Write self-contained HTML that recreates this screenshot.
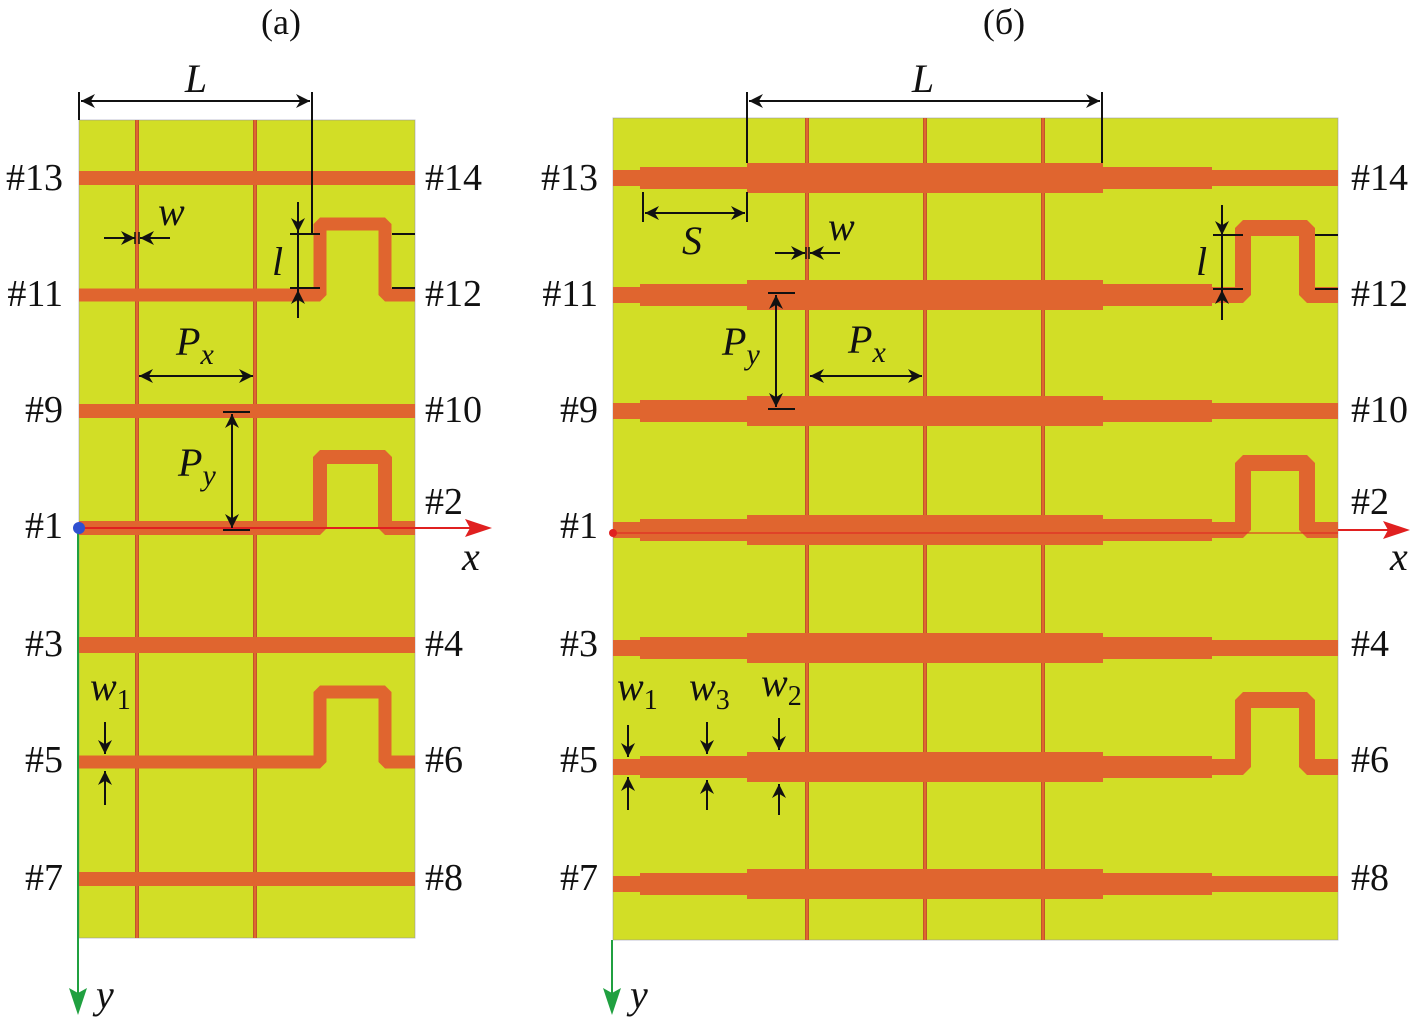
<!DOCTYPE html>
<html><head><meta charset="utf-8"><style>
html,body{margin:0;padding:0;background:#fff}
svg{display:block}
text{font-family:"Liberation Serif",serif;fill:#111}
.it{font-style:italic}
</style></head><body>
<svg width="1415" height="1022" viewBox="0 0 1415 1022" xmlns="http://www.w3.org/2000/svg">
<defs>
<marker id="ar" viewBox="0 0 10 10" refX="10" refY="5" markerWidth="20" markerHeight="14" orient="auto-start-reverse" markerUnits="userSpaceOnUse"><path d="M0,0 L10,5 L0,10 L3,5 Z" fill="#111"/></marker>
</defs>
<g stroke="#a04a20" stroke-opacity="0.5">
<rect x="79" y="120" width="336" height="818" fill="#d2de26" stroke="#8888aa" stroke-width="1"/>
<g stroke="#c0552a" stroke-width="4" stroke-opacity="1">
<line x1="137" y1="120" x2="137" y2="938"/><line x1="255" y1="120" x2="255" y2="938"/>
</g>
<g stroke="#e0652f" stroke-width="2" stroke-opacity="1">
<line x1="137" y1="120" x2="137" y2="938"/><line x1="255" y1="120" x2="255" y2="938"/>
</g>
<g stroke="#e0652f" stroke-opacity="1" fill="none" stroke-linejoin="bevel">
<line x1="79" y1="178" x2="415" y2="178" stroke-width="14"/>
<polyline points="79,295 320,295 320,224 385,224 385,295 415,295" stroke-width="13"/>
<line x1="79" y1="411" x2="415" y2="411" stroke-width="14"/>
<polyline points="79,528 320,528 320,457 385,457 385,528 415,528" stroke-width="14"/>
<line x1="79" y1="645" x2="415" y2="645" stroke-width="16"/>
<polyline points="79,762 320,762 320,692 385,692 385,762 415,762" stroke-width="13"/>
<line x1="79" y1="879" x2="415" y2="879" stroke-width="14"/>
</g>
<rect x="613" y="118" width="725" height="822" fill="#d2de26" stroke="#8888aa" stroke-width="1"/>
<g stroke="#c0552a" stroke-width="4" stroke-opacity="1">
<line x1="807" y1="118" x2="807" y2="940"/><line x1="925" y1="118" x2="925" y2="940"/><line x1="1043" y1="118" x2="1043" y2="940"/>
</g>
<g stroke="#e0652f" stroke-width="2" stroke-opacity="1">
<line x1="807" y1="118" x2="807" y2="940"/><line x1="925" y1="118" x2="925" y2="940"/><line x1="1043" y1="118" x2="1043" y2="940"/>
</g>
<g fill="#e0652f" stroke="none">
<rect x="613" y="170" width="30" height="16"/><rect x="640" y="167" width="110" height="22"/><rect x="747" y="163" width="356" height="30"/><rect x="1100" y="167" width="112" height="22"/><rect x="1210" y="170" width="128" height="16"/>
<rect x="613" y="287" width="30" height="16"/><rect x="640" y="284" width="110" height="22"/><rect x="747" y="280" width="356" height="30"/><rect x="1100" y="284" width="112" height="22"/>
<rect x="613" y="403" width="30" height="16"/><rect x="640" y="400" width="110" height="22"/><rect x="747" y="396" width="356" height="30"/><rect x="1100" y="400" width="112" height="22"/><rect x="1210" y="403" width="128" height="16"/>
<rect x="613" y="522" width="30" height="16"/><rect x="640" y="519" width="110" height="22"/><rect x="747" y="515" width="356" height="30"/><rect x="1100" y="519" width="112" height="22"/>
<rect x="613" y="640" width="30" height="16"/><rect x="640" y="637" width="110" height="22"/><rect x="747" y="633" width="356" height="30"/><rect x="1100" y="637" width="112" height="22"/><rect x="1210" y="640" width="128" height="16"/>
<rect x="613" y="759" width="30" height="16"/><rect x="640" y="756" width="110" height="22"/><rect x="747" y="752" width="356" height="30"/><rect x="1100" y="756" width="112" height="22"/>
<rect x="613" y="876" width="30" height="16"/><rect x="640" y="873" width="110" height="22"/><rect x="747" y="869" width="356" height="30"/><rect x="1100" y="873" width="112" height="22"/><rect x="1210" y="876" width="128" height="16"/>
</g>
<g stroke="#e0652f" stroke-opacity="1" fill="none" stroke-width="16" stroke-linejoin="bevel">
<polyline points="1208,295 1243,295 1243,228 1307,228 1307,295 1338,295"/>
<polyline points="1208,530 1243,530 1243,463 1307,463 1307,530 1338,530"/>
<polyline points="1208,767 1243,767 1243,700 1307,700 1307,767 1338,767"/>
</g>
</g>
<g>
<line x1="79" y1="528" x2="475" y2="528" stroke="#e02020" stroke-width="2"/>
<polygon points="465,519 492,528 465,537 470,528" fill="#e02020"/>
<line x1="78" y1="528" x2="78" y2="995" stroke="#20a040" stroke-width="2"/>
<polygon points="69,988 78,1015 87,988 78,993" fill="#20a040"/>
<circle cx="79" cy="528" r="6" fill="#3050d0"/>
<line x1="613" y1="533" x2="1338" y2="533" stroke="#e02020" stroke-width="1"/>
<line x1="1338" y1="530" x2="1392" y2="530" stroke="#e02020" stroke-width="2"/>
<polygon points="1383,521 1410,530 1383,539 1388,530" fill="#e02020"/>
<line x1="612" y1="940" x2="612" y2="995" stroke="#20a040" stroke-width="2"/>
<polygon points="603,988 612,1015 621,988 612,993" fill="#20a040"/>
<circle cx="613" cy="533" r="4" fill="#e02020"/>
</g>
<g stroke="#111" stroke-width="2" fill="none">
<line x1="79" y1="92" x2="79" y2="120"/><line x1="312" y1="92" x2="312" y2="234"/>
<line x1="81" y1="101" x2="310" y2="101" marker-start="url(#ar)" marker-end="url(#ar)"/>
<line x1="104" y1="238" x2="135" y2="238" marker-end="url(#ar)"/><line x1="170" y1="238" x2="140" y2="238" marker-end="url(#ar)"/>
<line x1="135" y1="232" x2="135" y2="244" stroke-width="1.5"/><line x1="139" y1="232" x2="139" y2="244" stroke-width="1.5"/>
<line x1="290" y1="234" x2="320" y2="234"/><line x1="290" y1="288" x2="320" y2="288"/>
<line x1="392" y1="234" x2="415" y2="234"/><line x1="392" y1="288" x2="415" y2="288"/>
<line x1="298" y1="202" x2="298" y2="232" marker-end="url(#ar)"/><line x1="298" y1="318" x2="298" y2="290" marker-end="url(#ar)"/>
<line x1="298" y1="232" x2="298" y2="290"/>
<line x1="139" y1="376" x2="253" y2="376" marker-start="url(#ar)" marker-end="url(#ar)"/>
<line x1="223" y1="412" x2="250" y2="412"/><line x1="223" y1="530" x2="250" y2="530"/>
<line x1="232" y1="414" x2="232" y2="528" marker-start="url(#ar)" marker-end="url(#ar)"/>
<line x1="105" y1="722" x2="105" y2="754" marker-end="url(#ar)"/><line x1="105" y1="805" x2="105" y2="771" marker-end="url(#ar)"/>
<line x1="747" y1="92" x2="747" y2="163"/><line x1="1102" y1="92" x2="1102" y2="163"/>
<line x1="749" y1="101" x2="1100" y2="101" marker-start="url(#ar)" marker-end="url(#ar)"/>
<line x1="643" y1="192" x2="643" y2="222"/><line x1="747" y1="192" x2="747" y2="222"/>
<line x1="645" y1="213" x2="745" y2="213" marker-start="url(#ar)" marker-end="url(#ar)"/>
<line x1="775" y1="253" x2="805" y2="253" marker-end="url(#ar)"/><line x1="840" y1="253" x2="810" y2="253" marker-end="url(#ar)"/>
<line x1="806" y1="247" x2="806" y2="259" stroke-width="1.5"/><line x1="809" y1="247" x2="809" y2="259" stroke-width="1.5"/>
<line x1="768" y1="293" x2="795" y2="293"/><line x1="768" y1="409" x2="795" y2="409"/>
<line x1="776" y1="295" x2="776" y2="407" marker-start="url(#ar)" marker-end="url(#ar)"/>
<line x1="810" y1="376" x2="922" y2="376" marker-start="url(#ar)" marker-end="url(#ar)"/>
<line x1="1222" y1="205" x2="1222" y2="235" marker-end="url(#ar)"/><line x1="1222" y1="320" x2="1222" y2="290" marker-end="url(#ar)"/>
<line x1="1222" y1="235" x2="1222" y2="290"/>
<line x1="1213" y1="235" x2="1243" y2="235"/><line x1="1213" y1="289" x2="1243" y2="289"/>
<line x1="1315" y1="235" x2="1338" y2="235"/><line x1="1315" y1="289" x2="1338" y2="289"/>
<line x1="628" y1="725" x2="628" y2="757" marker-end="url(#ar)"/><line x1="628" y1="810" x2="628" y2="777" marker-end="url(#ar)"/>
<line x1="707" y1="722" x2="707" y2="754" marker-end="url(#ar)"/><line x1="707" y1="810" x2="707" y2="780" marker-end="url(#ar)"/>
<line x1="779" y1="718" x2="779" y2="750" marker-end="url(#ar)"/><line x1="779" y1="815" x2="779" y2="784" marker-end="url(#ar)"/>
</g>
<g font-size="36">
<text x="281" y="34" text-anchor="middle">(a)</text>
<text x="1004" y="34" text-anchor="middle">(б)</text>
</g>
<g font-size="40">
<text class="it" x="196" y="92" text-anchor="middle">L</text>
<text class="it" x="923" y="92" text-anchor="middle">L</text>
<text class="it" x="158" y="225">w</text>
<text class="it" x="272" y="275">l</text>
<text class="it" x="176" y="355">P<tspan font-size="30" dy="9">x</tspan></text>
<text class="it" x="178" y="476">P<tspan font-size="30" dy="9">y</tspan></text>
<text class="it" x="90" y="700">w<tspan font-size="28" dy="9" font-style="normal">1</tspan></text>
<text class="it" x="462" y="570">x</text>
<text class="it" x="96" y="1008">y</text>
<text class="it" x="682" y="254">S</text>
<text class="it" x="828" y="240">w</text>
<text class="it" x="1196" y="275">l</text>
<text class="it" x="722" y="355">P<tspan font-size="30" dy="9">y</tspan></text>
<text class="it" x="848" y="353">P<tspan font-size="30" dy="9">x</tspan></text>
<text class="it" x="617" y="700">w<tspan font-size="28" dy="9" font-style="normal">1</tspan></text>
<text class="it" x="689" y="700">w<tspan font-size="28" dy="9" font-style="normal">3</tspan></text>
<text class="it" x="761" y="696">w<tspan font-size="28" dy="9" font-style="normal">2</tspan></text>
<text class="it" x="1390" y="570">x</text>
<text class="it" x="630" y="1008">y</text>
</g>
<g font-size="38">
<text x="63" y="190" text-anchor="end">#13</text><text x="63" y="306" text-anchor="end">#11</text>
<text x="63" y="422" text-anchor="end">#9</text><text x="63" y="538" text-anchor="end">#1</text>
<text x="63" y="656" text-anchor="end">#3</text><text x="63" y="772" text-anchor="end">#5</text>
<text x="63" y="890" text-anchor="end">#7</text>
<text x="425" y="190">#14</text><text x="425" y="306">#12</text><text x="425" y="422">#10</text>
<text x="425" y="514">#2</text><text x="425" y="656">#4</text><text x="425" y="772">#6</text><text x="425" y="890">#8</text>
<text x="598" y="190" text-anchor="end">#13</text><text x="598" y="306" text-anchor="end">#11</text>
<text x="598" y="422" text-anchor="end">#9</text><text x="598" y="538" text-anchor="end">#1</text>
<text x="598" y="656" text-anchor="end">#3</text><text x="598" y="772" text-anchor="end">#5</text>
<text x="598" y="890" text-anchor="end">#7</text>
<text x="1351" y="190">#14</text><text x="1351" y="306">#12</text><text x="1351" y="422">#10</text>
<text x="1351" y="514">#2</text><text x="1351" y="656">#4</text><text x="1351" y="772">#6</text><text x="1351" y="890">#8</text>
</g>
</svg>
</body></html>
